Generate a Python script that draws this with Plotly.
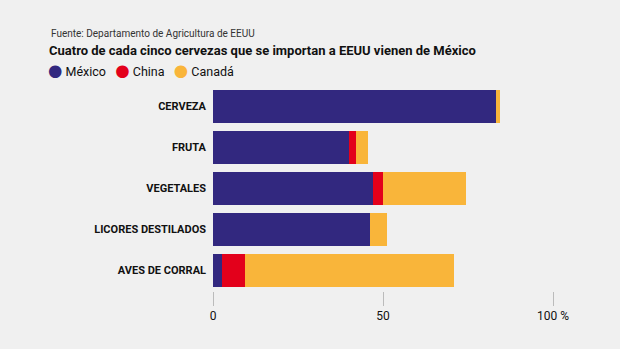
import plotly.graph_objects as go

categories = ["CERVEZA", "FRUTA", "VEGETALES", "LICORES DESTILADOS", "AVES DE CORRAL"]
mexico = [83.2, 39.9, 47.1, 46.1, 2.6]
china = [0, 2.2, 2.9, 0, 6.9]
canada = [1.2, 3.4, 24.3, 5.1, 61.5]
series_names = ["México", "China", "Canadá"]
colors = ["#32287f", "#e3001b", "#f9b53a"]
tick_vals = [0, 50, 100]
tick_text = ["0", "50", "100 %"]

FONT = "Roboto"
BG = "#f0f0f0"

fig = go.Figure()
for name, vals, col in zip(series_names, [mexico, china, canada], colors):
    fig.add_trace(go.Bar(
        y=categories, x=vals, orientation="h", name=name,
        marker=dict(color=col, line=dict(width=0)),
        showlegend=False, hoverinfo="x+name",
    ))

legend_html = "&nbsp;&nbsp;&nbsp;".join(
    f'<span style="color:{c};font-size:16.5px;font-family:DejaVu Sans">●</span> {n}'
    for n, c in zip(series_names, colors)
)

PH = 205  # plot height px
PW = 340  # plot width px

fig.update_layout(
    width=620, height=349,
    barmode="stack", bargap=0.18,
    paper_bgcolor=BG, plot_bgcolor=BG,
    margin=dict(l=213, r=67, t=86, b=58, autoexpand=False),
    font=dict(family=FONT, color="#111111"),
    showlegend=False,
    title=dict(
        text="<b>Cuatro de cada cinco cervezas que se importan a EEUU vienen de México</b>",
        x=49/620, xref="container", xanchor="left",
        y=1-50/349, yref="container", yanchor="middle",
        font=dict(size=13, family=FONT, color="#111111"),
    ),
    annotations=[
        dict(
            text="Fuente: Departamento de Agricultura de EEUU",
            xref="paper", yref="paper", x=(49-213)/PW, xanchor="left",
            y=1+(86-33)/PH, yanchor="middle", showarrow=False,
            font=dict(size=10, family=FONT, color="#333333"),
        ),
        dict(
            text=legend_html,
            xref="paper", yref="paper", x=(46-213)/PW, xanchor="left",
            y=1+(86-71)/PH, yanchor="middle", showarrow=False,
            font=dict(size=12.5, family=FONT, color="#111111"),
        ),
    ],
    xaxis=dict(
        range=[0, 100], tickvals=tick_vals, ticktext=tick_text,
        showgrid=False, zeroline=False, showline=False,
        ticks="outside", ticklen=14, tickwidth=1, tickcolor="#bbbbbb",
        tickfont=dict(size=12, family=FONT, color="#111111"),
        fixedrange=True,
    ),
    yaxis=dict(
        autorange="reversed", showgrid=False, zeroline=False, showline=False,
        ticks="", ticklabelstandoff=6,
        tickfont=dict(size=11, family=FONT, color="#111111", weight="bold"),
        fixedrange=True,
    ),
)

fig.write_html("out.html")
